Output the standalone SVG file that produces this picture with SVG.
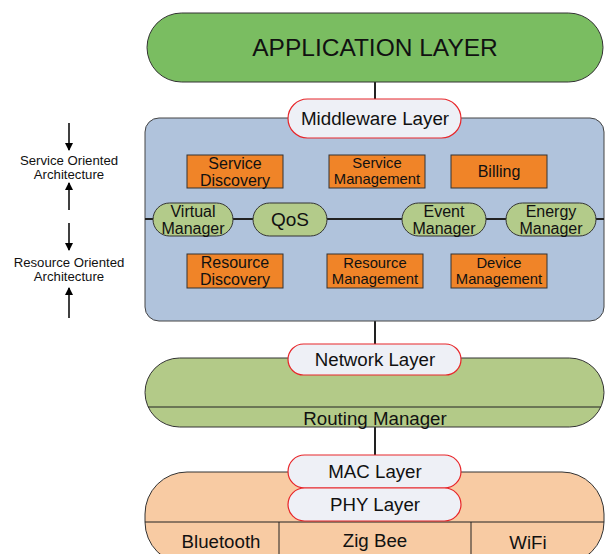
<svg xmlns="http://www.w3.org/2000/svg" width="605" height="554" viewBox="0 0 605 554">
<style>
text{font-family:"Liberation Sans",Arial,sans-serif;fill:#111;text-anchor:middle;dominant-baseline:central}
.pill{fill:#eef0f6;stroke:#e8262a;stroke-width:1.2}
.org{fill:#f08428;stroke:#333;stroke-width:1}
.grn{fill:#b3cb8a;stroke:#333;stroke-width:1}
.ln{stroke:#222;stroke-width:2;fill:none}
.thin{stroke:#222;stroke-width:1;fill:none}
.lbl{font-size:13.2px}
.box{font-size:16px}
.box2{font-size:14.8px}
.lay{font-size:18.7px}
</style>
<defs>
<marker id="ah" markerWidth="8" markerHeight="8" refX="7" refY="4" orient="auto" markerUnits="userSpaceOnUse">
<path d="M0,0 L8,4 L0,8 z" fill="#000"/>
</marker>
</defs>

<g id="connectors">
<line class="ln" x1="375" y1="82" x2="375" y2="100"/>
<line class="ln" x1="375" y1="321" x2="375" y2="344"/>
<line class="ln" x1="375" y1="427" x2="375" y2="455"/>
<line stroke="#000" stroke-width="1.5" x1="69" y1="123" x2="69" y2="150" marker-end="url(#ah)"/>
<line stroke="#000" stroke-width="1.5" x1="69" y1="210" x2="69" y2="183" marker-end="url(#ah)"/>
<line stroke="#000" stroke-width="1.5" x1="69" y1="223" x2="69" y2="250" marker-end="url(#ah)"/>
<line stroke="#000" stroke-width="1.5" x1="69" y1="318" x2="69" y2="288" marker-end="url(#ah)"/>
</g>

<g id="soa"><text class="lbl" x="69" y="160.5">Service Oriented</text><text class="lbl" x="69" y="174">Architecture</text></g>
<g id="roa"><text class="lbl" x="69" y="262">Resource Oriented</text><text class="lbl" x="69" y="276">Architecture</text></g>

<g id="application">
<rect x="147" y="13" width="456" height="69" rx="34.5" fill="#7abd61" stroke="#333" stroke-width="1"/>
<text x="375" y="47" font-size="24.5">APPLICATION LAYER</text>
</g>

<g id="middleware">
<rect x="145" y="118" width="459" height="203" rx="14" fill="#b0c3dc" stroke="#444" stroke-width="1"/>
<line class="ln" x1="145" y1="219" x2="604" y2="219"/>
</g>

<g id="middleware-label">
<rect class="pill" x="288" y="99" width="173" height="39" rx="19.5"/>
<text x="375" y="118" font-size="18.8">Middleware Layer</text>
</g>

<g id="service-discovery"><rect class="org" x="187" y="155" width="96" height="33"/><text class="box" x="235" y="163">Service</text><text class="box" x="235" y="180">Discovery</text></g>
<g id="service-management"><rect class="org" x="329" y="155" width="96" height="33"/><text class="box2" x="377" y="162.5">Service</text><text class="box2" x="377" y="178.5">Management</text></g>
<g id="billing"><rect class="org" x="451" y="155" width="96" height="33"/><text class="box" x="499" y="171">Billing</text></g>
<g id="resource-discovery"><rect class="org" x="187" y="254" width="96" height="34"/><text class="box" x="235" y="262">Resource</text><text class="box" x="235" y="279">Discovery</text></g>
<g id="resource-management"><rect class="org" x="327" y="254" width="96" height="34"/><text class="box2" x="375" y="263">Resource</text><text class="box2" x="375" y="279">Management</text></g>
<g id="device-management"><rect class="org" x="451" y="254" width="96" height="34"/><text class="box2" x="499" y="263">Device</text><text class="box2" x="499" y="279">Management</text></g>

<g id="virtual-manager"><rect class="grn" x="153" y="203" width="80" height="33" rx="16.5"/><text class="box" x="193" y="211">Virtual</text><text class="box" x="193" y="228">Manager</text></g>
<g id="qos"><rect class="grn" x="253" y="203" width="74" height="33" rx="16.5"/><text x="290" y="219" font-size="19">QoS</text></g>
<g id="event-manager"><rect class="grn" x="402" y="203" width="84" height="33" rx="16.5"/><text class="box" x="444" y="211">Event</text><text class="box" x="444" y="228">Manager</text></g>
<g id="energy-manager"><rect class="grn" x="506" y="203" width="90" height="33" rx="16.5"/><text class="box" x="551" y="211">Energy</text><text class="box" x="551" y="228">Manager</text></g>

<g id="network">
<rect x="145" y="358" width="459" height="69" rx="34.5" fill="#b3ca88" stroke="#333" stroke-width="1"/>
<line class="thin" x1="148" y1="407" x2="601" y2="407"/>
<text class="lay" x="375" y="418">Routing Manager</text>
</g>
<g id="network-label"><rect class="pill" x="288" y="344" width="173" height="31" rx="15.5"/><text class="lay" x="375" y="359">Network Layer</text></g>

<g id="physical">
<rect x="145" y="472" width="459" height="92" rx="42" fill="#f8cba3" stroke="#333" stroke-width="1"/>
<line class="thin" x1="145" y1="522" x2="604" y2="522"/>
<line class="thin" x1="279" y1="522" x2="279" y2="554"/>
<line class="thin" x1="471" y1="522" x2="471" y2="554"/>
<text class="lay" x="221" y="541">Bluetooth</text>
<text class="lay" x="375" y="540">Zig Bee</text>
<text class="lay" x="528" y="542">WiFi</text>
</g>
<g id="mac-label"><rect class="pill" x="288" y="455" width="173" height="33" rx="16.5"/><text class="lay" x="375" y="471">MAC Layer</text></g>
<g id="phy-label"><rect class="pill" x="288" y="488" width="173" height="33" rx="16.5"/><text class="lay" x="375" y="504">PHY Layer</text></g>
</svg>
